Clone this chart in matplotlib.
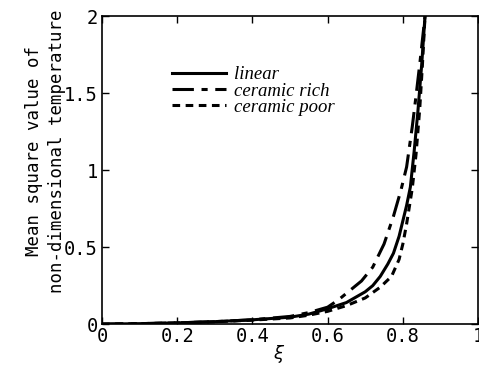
import numpy as np
import matplotlib.pyplot as plt

# data
xi_lin = [0, 0.1, 0.2, 0.3, 0.4, 0.5, 0.55, 0.6, 0.65, 0.7, 0.72, 0.74, 0.76, 0.775, 0.79, 0.80, 0.81, 0.82, 0.83, 0.84, 0.85, 0.859]
T_lin = [0, 0.003, 0.008, 0.016, 0.028, 0.045, 0.065, 0.10, 0.14, 0.21, 0.25, 0.31, 0.39, 0.46, 0.57, 0.67, 0.77, 0.89, 1.12, 1.38, 1.68, 2.0]

xi_rich = [0, 0.1, 0.2, 0.3, 0.4, 0.5, 0.55, 0.6, 0.63, 0.66, 0.69, 0.72, 0.75, 0.775, 0.795, 0.81, 0.825, 0.835, 0.846, 0.859]
T_rich = [0, 0.003, 0.008, 0.016, 0.028, 0.05, 0.075, 0.11, 0.16, 0.22, 0.28, 0.37, 0.52, 0.70, 0.87, 1.02, 1.28, 1.48, 1.71, 2.0]

xi_poor = [0, 0.1, 0.2, 0.3, 0.4, 0.5, 0.55, 0.6, 0.65, 0.7, 0.74, 0.77, 0.79, 0.80, 0.81, 0.825, 0.835, 0.845, 0.852, 0.859]
T_poor = [0, 0.003, 0.008, 0.015, 0.026, 0.04, 0.058, 0.083, 0.12, 0.17, 0.24, 0.31, 0.42, 0.52, 0.65, 0.88, 1.1, 1.4, 1.68, 2.0]

labels = ['linear', 'ceramic rich', 'ceramic poor']

mono = 'DejaVu Sans Mono'

fig = plt.figure(figsize=(4.79, 3.65), dpi=100)
ax = fig.add_axes([0.213, 0.112, 0.785, 0.844])

ax.plot(xi_lin, T_lin, color='black', lw=2.2, label=labels[0])
ax.plot(xi_rich, T_rich, color='black', lw=2.2, dashes=[7, 2.5, 2, 2.5], label=labels[1])
ax.plot(xi_poor, T_poor, color='black', lw=2.2, dashes=[2.5, 1.8], label=labels[2])

ax.set_xlim(0, 1)
ax.set_ylim(0, 2)
ax.set_xticks([0, 0.2, 0.4, 0.6, 0.8, 1])
ax.set_xticklabels(['0', '0.2', '0.4', '0.6', '0.8', '1'], family=mono, fontsize=13.5)
ax.set_yticks([0, 0.5, 1, 1.5, 2])
ax.set_yticklabels(['0', '0.5', '1', '1.5', '2'], family=mono, fontsize=13.5)
ax.tick_params(direction='in', top=True, right=True, length=5, width=1, pad=3)
ax.tick_params(axis='x', pad=2)
for s in ax.spines.values():
    s.set_linewidth(1.2)

ax.set_xlabel(r'$\xi$', fontsize=13, labelpad=-1)
ax.xaxis.set_label_coords(0.47, -0.062)
ax.set_ylabel('Mean square value of\nnon-dimensional temperature', family=mono, fontsize=12.5, linespacing=1.35)
ax.yaxis.set_label_coords(-0.097, 0.562)

leg = ax.legend(loc='upper left', bbox_to_anchor=(0.186, 0.837), frameon=False, handlelength=2.9,
                handletextpad=0.4, labelspacing=-0.05, borderpad=0, borderaxespad=0,
                prop={'family': 'Liberation Serif', 'style': 'italic', 'size': 13.5})

fig.savefig('out.png', dpi=100)
